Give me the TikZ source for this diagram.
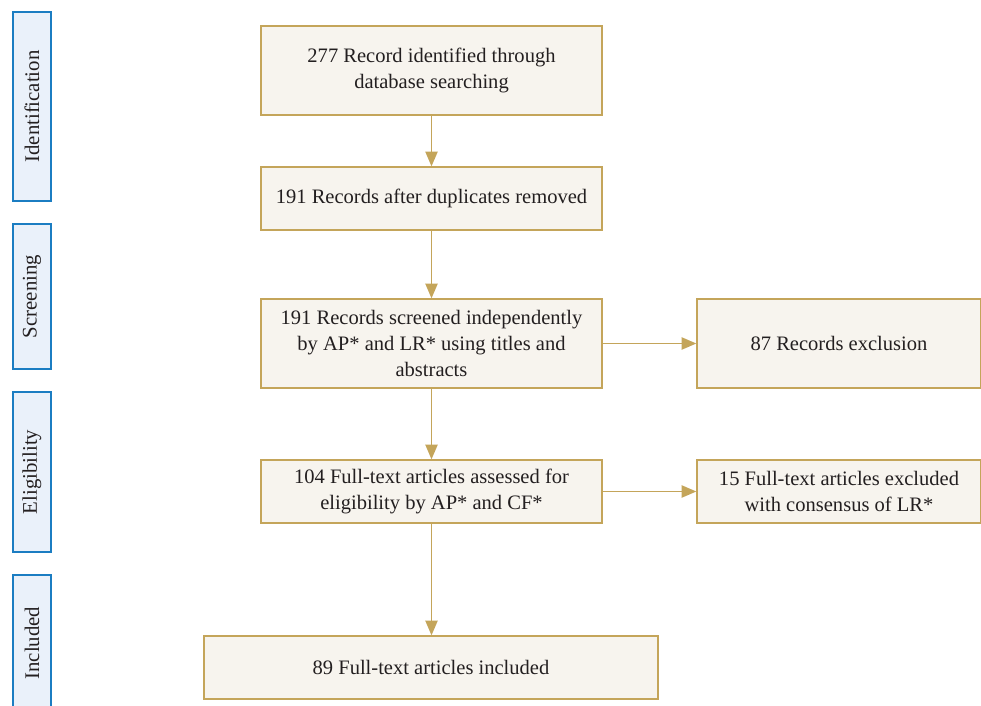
\documentclass[tikz,border=0pt]{standalone}
\usepackage{fontspec}
\setmainfont{Liberation Serif}
\usetikzlibrary{arrows.meta}
\definecolor{boxline}{HTML}{C4A55A}
\definecolor{boxfill}{HTML}{F7F4EE}
\definecolor{tagline}{HTML}{1B7DC2}
\definecolor{tagfill}{HTML}{EAF1FA}
\definecolor{txt}{HTML}{231F20}
\tikzset{
	stagebox/.style={draw=boxline, fill=boxfill, line width=0.9pt, text=txt, align=center,
		inner sep=2pt, font=\fontsize{15.4}{19.5}\selectfont},
	phasetag/.style={draw=tagline, fill=tagfill, line width=0.9pt, text=txt, rotate=90,
		minimum height=28.5pt, inner sep=0pt, font=\fontsize{15.6}{17}\selectfont},
	flow/.style={color=boxline, line width=1.4pt, -{Triangle[length=11pt, width=9pt]}}
}
\begin{document}
\begin{tikzpicture}[x=0.75pt, y=-0.75pt]
		%%%%% START %%%%%
		\clip (0, 0) rectangle (981, 706);
		\fill[white] (0, 0) rectangle (981, 706);
		
		% phases on the left
		\node[phasetag, minimum width=141.75pt] (ident) at (32, 106.5) {Identification};
		\node[phasetag, minimum width=108.75pt] (screen) at (32, 296.5) {Screening};
		\node[phasetag, minimum width=120pt] (elig) at (32, 472) {Eligibility};
		\node[phasetag, minimum width=102pt] (incl) at (32, 643) {Included};
		
		% main column
		\node[stagebox, minimum width=255.75pt, minimum height=66.75pt] (found) at (431.5, 70.5)
			{277 Record identified through\\database searching};
		\node[stagebox, minimum width=255.75pt, minimum height=47.25pt] (dedup) at (431.5, 198.5)
			{191 Records after duplicates removed};
		\node[stagebox, minimum width=255.75pt, minimum height=66.75pt] (screened) at (431.5, 343.5)
			{191 Records screened independently\\by AP* and LR* using titles and\\abstracts};
		\node[stagebox, minimum width=255.75pt, minimum height=47.25pt] (assessed) at (431.5, 491.5)
			{104 Full-text articles assessed for\\eligibility by AP* and CF*};
		\node[stagebox, minimum width=340.5pt, minimum height=47.25pt] (included) at (431, 667.5)
			{89 Full-text articles included};
		
		% exclusions on the right
		\node[stagebox, minimum width=213pt, minimum height=66.75pt] (dropped) at (839, 343.5)
			{87 Records exclusion};
		\node[stagebox, minimum width=213pt, minimum height=47.25pt] (rejected) at (839, 491.5)
			{15 Full-text articles excluded\\with consensus of LR*};
		
		% arrows
		\draw[flow] (found) -- (dedup);
		\draw[flow] (dedup) -- (screened);
		\draw[flow] (screened) -- (assessed);
		\draw[flow] (assessed.south) -- (assessed.south |- included.north);
		\draw[flow] (screened) -- (dropped);
		\draw[flow] (assessed) -- (rejected);
		%%%%% END %%%%%
	\end{tikzpicture}
\end{document}
